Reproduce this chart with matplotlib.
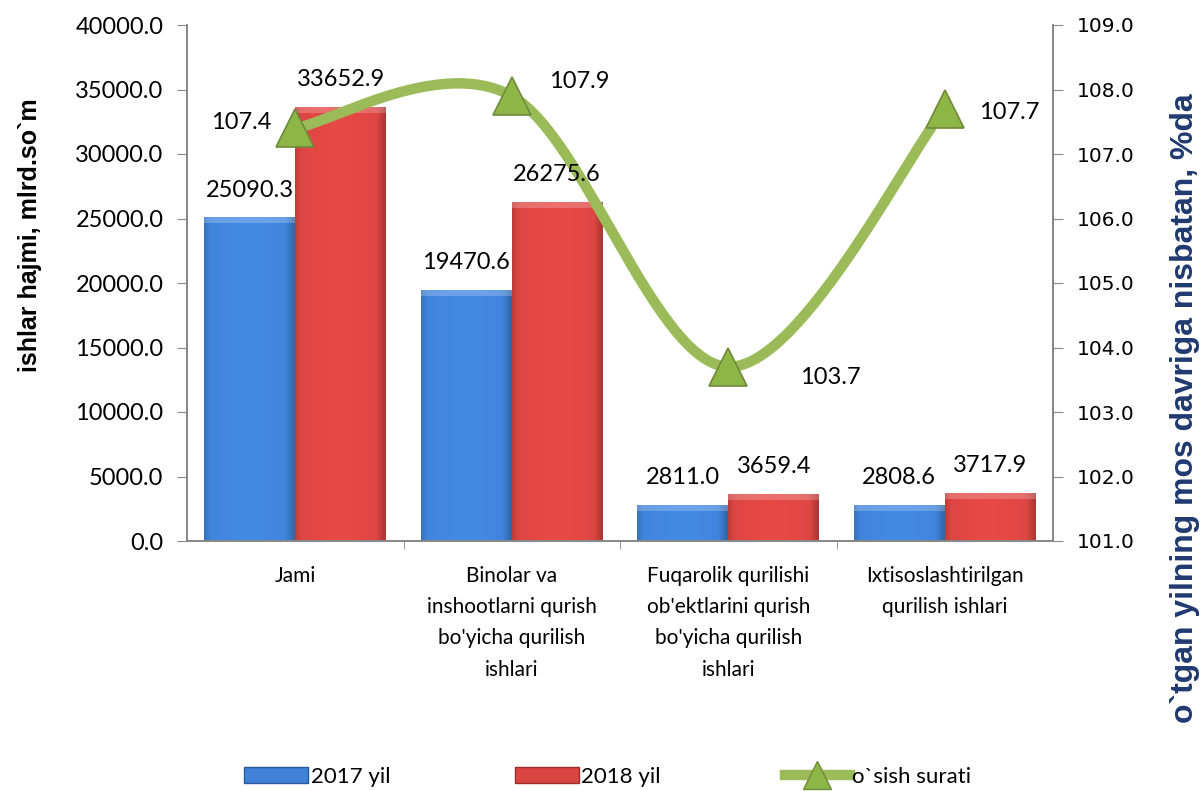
import numpy as np
import matplotlib
matplotlib.use('Agg')
import matplotlib.pyplot as plt
from matplotlib.lines import Line2D
from matplotlib.patches import Patch

categories = ['Jami',
              'Binolar va\ninshootlarni qurish\nbo\'yicha qurilish\nishlari',
              'Fuqarolik qurilishi\nob\'ektlarini qurish\nbo\'yicha qurilish\nishlari',
              'Ixtisoslashtirilgan\nqurilish ishlari']
v2017 = [25090.3, 19470.6, 2811.0, 2808.6]
v2018 = [33652.9, 26275.6, 3659.4, 3717.9]
growth = [107.4, 107.9, 103.7, 107.7]

plt.rcParams['font.family'] = ['Lato', 'DejaVu Sans']

fig = plt.figure(figsize=(12.03, 7.91), dpi=100)
ax = fig.add_axes([187/1203, 1-541/791, (1053-187)/1203, (541-25)/791])
ax2 = ax.twinx()
ax.set_zorder(1)
ax2.set_zorder(2)
ax2.patch.set_visible(False)

x = np.arange(len(categories))
w = 0.42


def grad_bar(ax, xc, h, base):
    b = ax.bar(xc, h, w, color=base, edgecolor='none', zorder=2)[0]
    c = np.array(matplotlib.colors.to_rgb(base))
    g = np.linspace(0, 1, 80)
    prof = 1.0 + 0.06 * np.sin(np.pi * g) - 0.22 * np.clip((g - 0.9) / 0.1, 0, 1) \
        - 0.12 * np.clip((0.06 - g) / 0.06, 0, 1)
    img = np.clip(c[None, :] * prof[:, None], 0, 1)[None, :, :]
    im = ax.imshow(img, extent=[xc - w/2, xc + w/2, 0, h], aspect='auto',
                   zorder=2, interpolation='bilinear')
    im.set_clip_path(b)
    # top bevel
    ax.fill_between([xc - w/2, xc + w/2], h - 450, h, color='white', alpha=0.22,
                    zorder=3, linewidth=0)
    return b


for i in range(len(categories)):
    grad_bar(ax, x[i] - w/2, v2017[i], '#3f82d8')
    grad_bar(ax, x[i] + w/2, v2018[i], '#da4542')
    ax2.text(x[i] - w/2, v2017[i] + 1300, f'{v2017[i]:.1f}', ha='center', va='bottom',
             fontsize=17, transform=ax.transData, zorder=6)
    ax2.text(x[i] + w/2, v2018[i] + 1300, f'{v2018[i]:.1f}', ha='center', va='bottom',
             fontsize=17, transform=ax.transData, zorder=6)

ax.set_xlim(-0.5, len(categories) - 0.5)
ax.set_ylim(0, 40000)
ax.set_yticks(np.arange(0, 40001, 5000))
ax.set_yticklabels([f'{t:.1f}' for t in np.arange(0, 40001, 5000)], fontsize=17)
ax.set_xticks(x)
ax.set_xticklabels(categories, fontsize=15, linespacing=1.7)
ax.set_xticks(np.arange(0.5, len(categories) - 0.5), minor=True)
ax.tick_params(axis='x', which='major', length=0, pad=18)
ax.tick_params(axis='x', which='minor', length=6, color='#888888', direction='out')
ax.tick_params(axis='y', length=7, color='#888888', direction='out', pad=10)
fig.text(30/1203, 1-235/791, 'ishlar hajmi, mlrd.so`m', rotation=90, ha='center',
         va='center', fontsize=18, fontweight='bold', family=['Liberation Sans'])

for a in (ax, ax2):
    a.spines['top'].set_visible(False)
    for s in ('left', 'right', 'bottom'):
        a.spines[s].set_color('#888888')
        a.spines[s].set_linewidth(1.3)

# smoothed line (Catmull-Rom)
px = np.concatenate([[x[0]], x, [x[-1]]]).astype(float)
py = np.concatenate([[growth[0]], growth, [growth[-1]]])
cx, cy = [], []
for i in range(1, len(px) - 2):
    t = np.linspace(0, 1, 60)[:, None]
    p0, p1, p2, p3 = [np.array([px[j], py[j]]) for j in range(i - 1, i + 3)]
    pts = 0.5 * (2 * p1 + (-p0 + p2) * t + (2 * p0 - 5 * p1 + 4 * p2 - p3) * t**2
                 + (-p0 + 3 * p1 - 3 * p2 + p3) * t**3)
    cx.extend(pts[:, 0]); cy.extend(pts[:, 1])
ax2.plot(cx, cy, color='#9bbb59', lw=7.5, solid_capstyle='butt', zorder=4)
ax2.plot(x, growth, ls='none', marker='^', ms=28, mfc='#8db646', mec='#6e8a3a',
         mew=1.2, zorder=5)

offs = [(-0.25, 0.09), (0.31, 0.22), (0.47, -0.17), (0.30, -0.05)]
for i, g in enumerate(growth):
    ax2.text(x[i] + offs[i][0], g + offs[i][1], f'{g:.1f}', ha='center', va='center',
             fontsize=17, zorder=6)

ax2.set_ylim(101, 109)
ax2.set_yticks(np.arange(101, 109.01, 1))
ax2.set_yticklabels([f'{t:.1f}' for t in np.arange(101, 109.01, 1)], fontsize=14.5,
                    family=['DejaVu Sans'])
ax2.tick_params(axis='y', length=7, color='#888888', direction='out', pad=10)
fig.text(1185/1203, 1-408/791, 'o`tgan yilning mos davriga nisbatan, %da', rotation=90,
         ha='center', va='center', fontsize=23, fontweight='bold', color='#203a70',
         family=['Liberation Sans'])

handles = [Patch(facecolor='#3f82d8', edgecolor='#2a5a9a'),
           Patch(facecolor='#da4542', edgecolor='#9a2e2c'),
           Line2D([0], [0], color='#9bbb59', lw=7.5, marker='^', ms=20,
                  mfc='#8db646', mec='#6e8a3a')]
fig.legend(handles, ['2017 yil', '2018 yil', 'o`sish surati'], loc='center',
           bbox_to_anchor=(0.505, 0.018), ncol=3, frameon=False, fontsize=16,
           columnspacing=5.6, handlelength=2.9, handletextpad=0.1, handleheight=0.7)

fig.savefig('out.png', dpi=100)
